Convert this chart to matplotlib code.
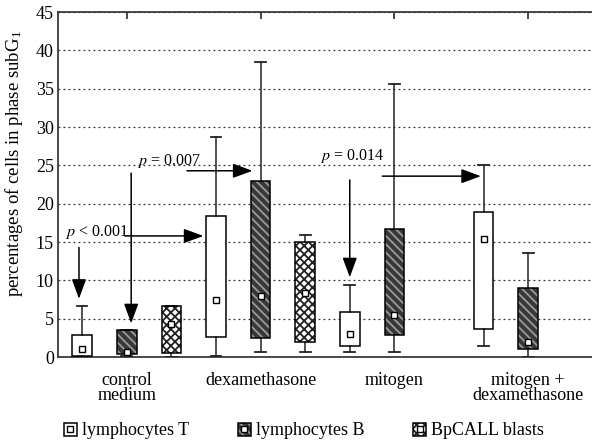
import matplotlib
matplotlib.use('Agg')
import matplotlib.pyplot as plt
from matplotlib.patches import Patch, PathPatch
from matplotlib.lines import Line2D
from matplotlib.legend_handler import HandlerTuple

plt.rcParams['font.family'] = ['Liberation Serif', 'DejaVu Serif']
plt.rcParams['mathtext.fontset'] = 'stix'
plt.rcParams['hatch.linewidth'] = 1.3

# box positions (slot 9 left empty between groups 3 and 4)
positions = [1, 2, 3, 4, 5, 6, 7, 8, 10, 11]
kinds = ['T', 'B', 'Bp', 'T', 'B', 'Bp', 'T', 'B', 'T', 'B']
q1 = [0.1, 0.4, 0.5, 2.6, 2.5, 1.9, 1.5, 2.9, 3.65, 1.05]
q3 = [2.9, 3.5, 6.7, 18.4, 23.0, 15.0, 5.9, 16.7, 18.9, 9.0]
whislo = [0.0, 0.1, 0.0, 0.1, 0.65, 0.7, 0.7, 0.7, 1.4, 0.0]
whishi = [6.6, 3.5, 6.7, 28.7, 38.5, 15.95, 9.4, 35.6, 25.1, 13.6]
mid = [1.1, 0.6, 4.3, 7.4, 8.0, 8.4, 3.0, 5.5, 15.4, 2.0]

group_ticks = [2, 5, 8, 11]
group_labels = ['control\nmedium', 'dexamethasone', 'mitogen', 'mitogen +\ndexamethasone']
legend_labels = ['lymphocytes T', 'lymphocytes B', 'BpCALL blasts']

p_texts = ['$p$ < 0.001', '$p$ = 0.007', '$p$ = 0.014']
p_xy = [(0.62, 16.3), (2.23, 25.6), (6.34, 26.2)]
arrows = [((0.93, 14.3), (0.93, 7.6)),
          ((1.96, 15.8), (3.72, 15.8)),
          ((2.1, 24.0), (2.1, 4.4)),
          ((3.35, 24.3), (4.82, 24.3)),
          ((7.0, 23.1), (7.0, 10.4)),
          ((7.73, 23.6), (9.94, 23.6))]

styles = {
    'T': dict(facecolor='white', edgecolor='black', hatch=None),
    'B': dict(facecolor='#383838', edgecolor='#9a9a9a', hatch='\\\\\\\\'),
    'Bp': dict(facecolor='white', edgecolor='#222222', hatch='xxxx'),
}

fig = plt.figure(figsize=(5.92, 4.48), dpi=100)
ax = fig.add_axes([0.098, 0.203, 0.902, 0.77])

stats = []
for i in range(len(positions)):
    stats.append(dict(q1=q1[i], q3=q3[i], med=mid[i], mean=mid[i],
                      whislo=whislo[i], whishi=whishi[i], fliers=[]))

bp = ax.bxp(stats, positions=positions, widths=0.44, capwidths=0.24,
            patch_artist=True, showmeans=True, showfliers=False,
            medianprops=dict(linewidth=0),
            whiskerprops=dict(color='#222222', linewidth=1.1),
            capprops=dict(color='#222222', linewidth=1.3),
            meanprops=dict(marker='s', markerfacecolor='white', markeredgecolor='black',
                           markersize=5, markeredgewidth=1.0),
            boxprops=dict(linewidth=0), zorder=3)

for box, k in zip(bp['boxes'], kinds):
    st = styles[k]
    box.set_facecolor(st['facecolor'])
    box.set_edgecolor(st['edgecolor'])
    if st['hatch']:
        box.set_hatch(st['hatch'])
    ax.add_patch(PathPatch(box.get_path(), fill=False, edgecolor='black',
                           linewidth=1.1, zorder=3.1))
for m in bp['means']:
    m.set_zorder(4)

for (x0, y0), (x1, y1) in arrows:
    ax.annotate('', xy=(x1, y1), xytext=(x0, y0),
                arrowprops=dict(arrowstyle='-|>,head_length=0.6,head_width=0.22',
                                mutation_scale=20, color='black', lw=1.1,
                                shrinkA=0, shrinkB=0), zorder=5)
for t, (x, y) in zip(p_texts, p_xy):
    ax.text(x, y, t, ha='left', va='center', fontsize=11.5, zorder=6)

ax.set_xlim(0.46, 12.43)
ax.set_ylim(0, 45)
ax.set_yticks(range(0, 46, 5))
ax.set_xticks(group_ticks)
ax.set_xticklabels(group_labels, fontsize=13, linespacing=0.85)
ax.tick_params(axis='x', bottom=False, top=True, direction='in', length=5,
               width=1.3, color='#3a3a3a', pad=11)
ax.tick_params(axis='y', length=0, labelsize=13, pad=3)
ax.yaxis.grid(True, linestyle=(0, (1.5, 2.5)), linewidth=0.9, color='#333333')
ax.set_axisbelow(True)
ax.set_ylabel('percentages of cells in phase subG$_\\mathregular{1}$', fontsize=13.5)
ax.yaxis.set_label_coords(-0.062, 0.56)

for s in ['left', 'bottom', 'top']:
    ax.spines[s].set_color('#3a3a3a')
    ax.spines[s].set_linewidth(1.3)
ax.spines['right'].set_visible(False)

handles = []
for k in ['T', 'B', 'Bp']:
    st = styles[k]
    fill = Patch(facecolor=st['facecolor'], edgecolor=st['edgecolor'], hatch=st['hatch'], linewidth=0)
    outline = Patch(fill=False, edgecolor='black', linewidth=1.1)
    mark = Line2D([], [], marker='s', markerfacecolor='white', markeredgecolor='black',
                  markersize=5, linestyle='none')
    handles.append((fill, outline, mark))

fig.legend(handles, legend_labels, loc='center', bbox_to_anchor=(0.513, 0.038),
           ncol=3, frameon=False, fontsize=13, handlelength=0.75, handleheight=0.75,
           handletextpad=0.25, columnspacing=2.7,
           handler_map={tuple: HandlerTuple(ndivide=1, pad=0)})

fig.savefig('out.png', dpi=100)
